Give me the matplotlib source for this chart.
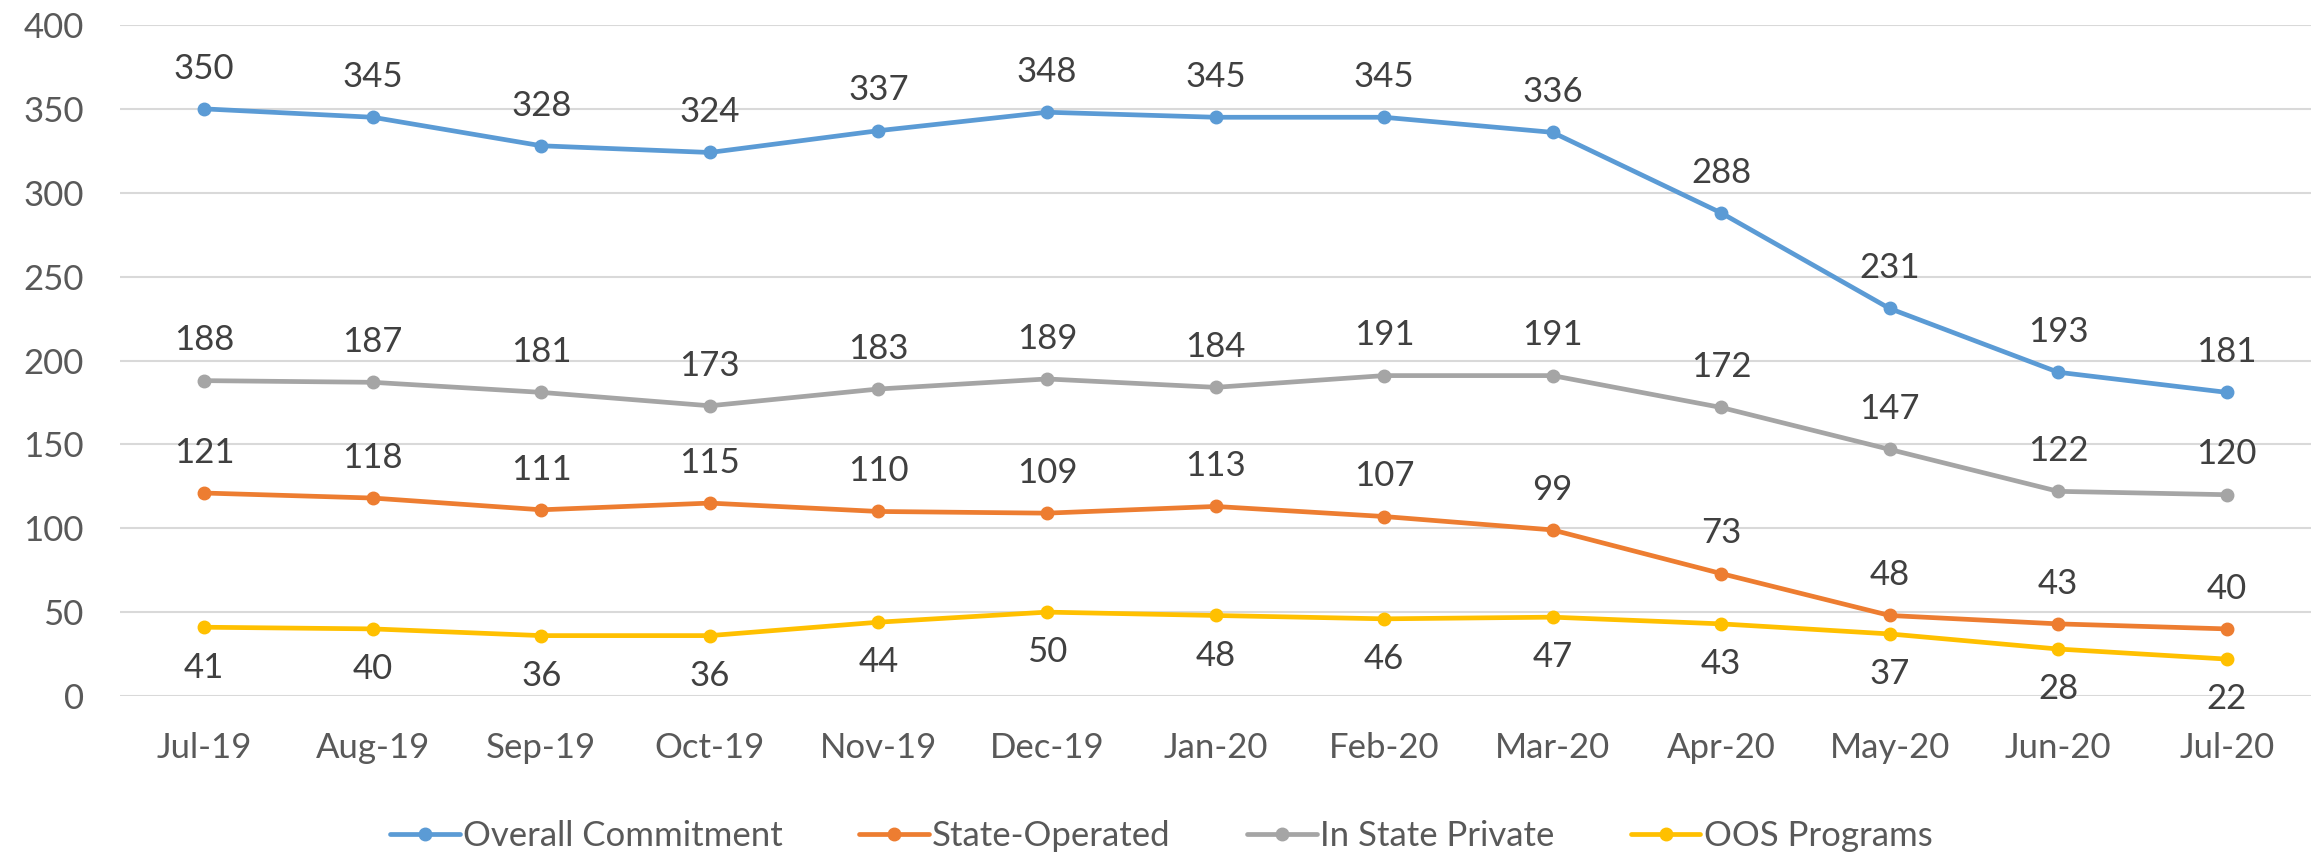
import matplotlib
matplotlib.use("Agg")
import matplotlib.pyplot as plt

months = ["Jul-19", "Aug-19", "Sep-19", "Oct-19", "Nov-19", "Dec-19", "Jan-20",
          "Feb-20", "Mar-20", "Apr-20", "May-20", "Jun-20", "Jul-20"]
overall = [350, 345, 328, 324, 337, 348, 345, 345, 336, 288, 231, 193, 181]
state_operated = [121, 118, 111, 115, 110, 109, 113, 107, 99, 73, 48, 43, 40]
in_state_private = [188, 187, 181, 173, 183, 189, 184, 191, 191, 172, 147, 122, 120]
oos_programs = [41, 40, 36, 36, 44, 50, 48, 46, 47, 43, 37, 28, 22]
yticks = [0, 50, 100, 150, 200, 250, 300, 350, 400]

plt.rcParams['font.family'] = ['Lato', 'DejaVu Sans']

fig = plt.figure(figsize=(23.23, 8.56), dpi=100)
ax = fig.add_axes([120/2323, 160/856, (2311-120)/2323, (696-25)/856])

series = [
    ("Overall Commitment", overall, "#5B9BD5", 1),
    ("State-Operated", state_operated, "#ED7D31", 1),
    ("In State Private", in_state_private, "#A5A5A5", 1),
    ("OOS Programs", oos_programs, "#FFC000", -1),
]
x = list(range(len(months)))
for name, vals, color, side in series:
    ax.plot(x, vals, color=color, lw=3.4, marker="o", ms=9, label=name,
            solid_capstyle="round")
    for xi, v in zip(x, vals):
        ax.annotate(str(v), (xi, v), xytext=(0, 29 * side), textcoords="offset points",
                    ha="center", va="center", fontsize=25, color="#404040")

ax.set_xlim(-0.5, len(months) - 0.5)
ax.set_ylim(0, 400)
ax.set_yticks(yticks)
ax.set_xticks(x)
ax.set_xticklabels(months)
ax.tick_params(axis="both", length=0, labelsize=25, labelcolor="#595959")
ax.tick_params(axis="x", pad=26)
ax.tick_params(axis="y", pad=26)
ax.grid(axis="y", color="#D9D9D9", lw=1.5)
ax.set_axisbelow(True)
for s in ax.spines.values():
    s.set_visible(False)

leg = fig.legend(loc="center", bbox_to_anchor=(0.5, 1 - 836/856), ncol=4, frameon=False,
                 fontsize=25, labelcolor="#595959", handlelength=2.0, handletextpad=0.1,
                 columnspacing=2.2)

fig.savefig("out.png", dpi=100)
